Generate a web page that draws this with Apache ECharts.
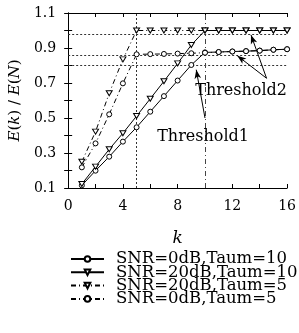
<!DOCTYPE html>
<html>
<head>
<meta charset="utf-8">
<script src="https://cdn.jsdelivr.net/npm/echarts@6/dist/echarts.min.js"></script>
<style>
html,body{margin:0;padding:0;background:#fff;}
#chart{width:299px;height:333px;}
</style>
</head>
<body>
<div id="chart"></div>
<script>
var kVals = [1,2,3,4,5,6,7,8,9,10,11,12,13,14,15,16];
var snr0Taum10  = [0.115,0.199,0.279,0.365,0.447,0.536,0.625,0.714,0.803,0.875,0.877,0.880,0.882,0.885,0.890,0.893];
var snr20Taum10 = [0.123,0.222,0.321,0.413,0.511,0.610,0.710,0.812,0.917,1.0,1.0,1.0,1.0,1.0,1.0,1.0];
var snr20Taum5  = [0.250,0.422,0.641,0.835,1.0,1.0,1.0,1.0,1.0,1.0,1.0,1.0,1.0,1.0,1.0,1.0];
var snr0Taum5   = [0.218,0.355,0.521,0.698,0.864,0.865,0.866,0.868,0.870,0.873,0.877,0.880,0.882,0.885,0.890,0.893];
var seriesNames = ['SNR=0dB,Taum=10','SNR=20dB,Taum=10','SNR=20dB,Taum=5','SNR=0dB,Taum=5'];
var threshY = [0.98, 0.865, 0.80];   // horizontal dotted lines
var threshK = [5, 10];               // vertical lines

var font = 'DejaVu Serif';
var dashDot = [5,3,1,3];

function pairs(ys){
    var out = [];
    for (var i = 0; i < kVals.length; i++) out.push([kVals[i], ys[i]]);
    return out;
}

function mkSeries(name, ys, symbol, dashed){
    return {
        name: name,
        type: 'line',
        data: pairs(ys),
        symbol: symbol,
        symbolSize: symbol == 'triangle' ? [6,5] : 5,
        symbolRotate: symbol == 'triangle' ? 180 : 0,
        showAllSymbol: true,
        lineStyle: {color:'#000', width:1, type: dashed ? dashDot : 'solid'},
        itemStyle: {color:'#fff', borderColor:'#000', borderWidth:1},
        emphasis: {disabled:true},
        z: 5
    };
}

var s1 = mkSeries(seriesNames[0], snr0Taum10, 'circle', false);
var s2 = mkSeries(seriesNames[1], snr20Taum10, 'triangle', false);
var s3 = mkSeries(seriesNames[2], snr20Taum5, 'triangle', true);
var s4 = mkSeries(seriesNames[3], snr0Taum5, 'circle', true);

// threshold lines
var guide = [];
threshY.forEach(function(v){
    guide.push({yAxis:v, lineStyle:{type:[2,2], color:'#333', width:1}});
});
guide.push({xAxis:threshK[0], lineStyle:{type:[2,2], color:'#333', width:1}});
guide.push({xAxis:threshK[1], lineStyle:{type:dashDot, color:'#444', width:1}});
s1.markLine = {
    silent:true, symbol:['none','none'], label:{show:false}, animation:false,
    data: guide, z: 1
};
// arrows
s2.markLine = {
    silent:true, symbol:['none','arrow'], symbolSize:[5,9], label:{show:false}, animation:false,
    lineStyle:{type:'solid', color:'#000', width:1},
    data: [
        [{coord:[14.5,0.727]},{coord:[13.36,0.975]}],
        [{coord:[14.5,0.727]},{coord:[12.36,0.856]}],
        [{coord:[10.0,0.50]},{coord:[9.36,0.776]}]
    ]
};
s2.markPoint = {
    silent:true, symbol:'circle', symbolSize:0, animation:false,
    label:{show:true, position:'inside', color:'#000', fontFamily:font, fontSize:16,
        formatter:function(p){ return p.name; }},
    data: [
        {name:'Threshold2', coord:[12.64,0.655]},
        {name:'Threshold1', coord:[9.86,0.39]}
    ]
};

// one legend per row so rows can sit closer than the text height
var legends = seriesNames.map(function(n, i){
    return {
        left:70, top:250.5 + i*13.3, padding:0,
        itemWidth:33, itemHeight:7,
        selectedMode:false,
        data:[n],
        textStyle:{fontFamily:font, fontSize:16.5, color:'#000', lineHeight:13, padding:[0,0,0,7]}
    };
});

var tickStyle = {show:true, inside:true, length:4, lineStyle:{color:'#000'}};
var lineAx = {show:true, lineStyle:{color:'#000', width:1}};

var myChart = echarts.init(document.getElementById('chart'));
myChart.setOption({
    animation:false,
    backgroundColor:'#fff',
    grid:{left:65, right:10, top:13, bottom:145, containLabel:false},
    legend: legends,
    xAxis:[{
        type:'value', min:0, max:16, interval:2,
        axisLine:lineAx, axisTick:tickStyle, splitLine:{show:false},
        axisLabel:{margin:11, fontFamily:font, fontSize:14, color:'#000',
            formatter:function(v){ return v % 4 == 0 ? String(v) : ''; }},
        name:'k', nameLocation:'middle', nameGap:42,
        nameTextStyle:{fontFamily:font, fontSize:17, fontStyle:'italic', color:'#000'}
    },{
        type:'value', min:0, max:16, interval:2, position:'top',
        axisLine:lineAx, axisTick:tickStyle, splitLine:{show:false}, axisLabel:{show:false}
    }],
    yAxis:[{
        type:'value', min:0.1, max:1.1, interval:0.1,
        axisLine:lineAx, axisTick:tickStyle, splitLine:{show:false},
        axisLabel:{margin:12, fontFamily:font, fontSize:14, color:'#000',
            formatter:function(v){ return Math.round(v*10) % 2 == 1 ? v.toFixed(1) : ''; }},
        name:'{i|E}({i|k}) / {i|E}({i|N})', nameLocation:'middle', nameGap:43, nameRotate:90,
        nameTextStyle:{fontFamily:font, fontSize:15, color:'#000',
            rich:{i:{fontFamily:font, fontSize:15, fontStyle:'italic', color:'#000'}}}
    },{
        type:'value', min:0.1, max:1.1, interval:0.1, position:'right',
        axisLine:lineAx, axisTick:tickStyle, splitLine:{show:false}, axisLabel:{show:false}
    }],
    series:[s1, s2, s3, s4]
});
</script>
</body>
</html>
